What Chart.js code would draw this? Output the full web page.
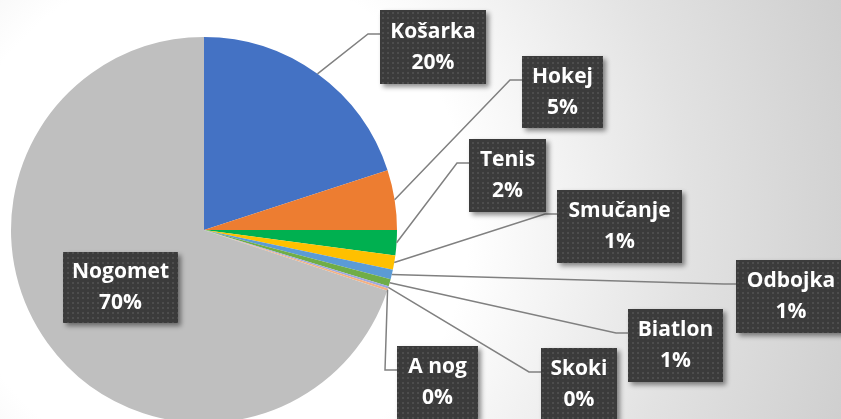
<!DOCTYPE html>
<html>
<head>
<meta charset="utf-8">
<script src="https://cdn.jsdelivr.net/npm/chart.js@4"></script>
<style>
  html, body { margin: 0; padding: 0; }
  #wrap {
    width: 841px; height: 419px; overflow: hidden; position: relative;
    background: radial-gradient(circle at 210px 220px, #ffffff 0px, #ffffff 260px, #e2e2e2 480px, #c9c9c9 720px);
  }
  #box { width: 841px; height: 460px; position: absolute; left: 0; top: 0; }
</style>
</head>
<body>
<div id="wrap"><div id="box"><canvas id="myChart"></canvas></div></div>
<script>
// sports and their share of answers
const categories = ["Košarka", "Hokej", "Tenis", "Smučanje", "Odbojka", "Biatlon", "Skoki", "A nog", "Nogomet"];
const shares = [20.0, 5.0, 2.1, 1.2, 0.8, 0.6, 0.2, 0.2, 69.9];
const sliceColors = ["#4472C4", "#ED7D31", "#00B050", "#FFC000", "#5B9BD5", "#70AD47", "#9DA8E0", "#F4B183", "#BFBFBF"];

// where each callout box sits (left, top, width, height), leader = draw line to slice
const labelBoxes = [
  { x: 380, y: 10, w: 106, h: 74, leader: true },
  { x: 522, y: 56, w: 81, h: 72, leader: true },
  { x: 469, y: 139, w: 77, h: 73, leader: true },
  { x: 557, y: 190, w: 125, h: 73, leader: true },
  { x: 736, y: 260, w: 110, h: 73, leader: true },
  { x: 628, y: 309, w: 95, h: 73, leader: true },
  { x: 541, y: 348, w: 76, h: 73, leader: true },
  { x: 397, y: 346, w: 81, h: 73, leader: true },
  { x: 63, y: 252, w: 115, h: 71, leader: false },
];

const total = shares.reduce((a, b) => a + b, 0);

// dotted fill like the office callouts
function makePattern(c) {
  const p = document.createElement("canvas");
  p.width = 5; p.height = 5;
  const pc = p.getContext("2d");
  pc.fillStyle = "#3b3b3b";
  pc.fillRect(0, 0, 5, 5);
  pc.fillStyle = "#4d4d4d";
  pc.fillRect(2, 2, 2, 2);
  return c.createPattern(p, "repeat");
}

const calloutPlugin = {
  id: "callouts",
  afterDatasetsDraw(chart) {
    const c = chart.ctx;
    const arcs = chart.getDatasetMeta(0).data;
    const pattern = makePattern(c);
    c.save();
    // leader lines first
    arcs.forEach((arc, i) => {
      const b = labelBoxes[i];
      if (!b.leader) return;
      const mid = (arc.startAngle + arc.endAngle) / 2;
      const px = arc.x + Math.cos(mid) * arc.outerRadius;
      const py = arc.y + Math.sin(mid) * arc.outerRadius;
      const ly = b.y + 24;
      c.beginPath();
      c.moveTo(px, py);
      c.lineTo(b.x - 12, ly);
      c.lineTo(b.x, ly);
      c.strokeStyle = "#808080";
      c.lineWidth = 1.5;
      c.stroke();
    });
    // boxes and text
    arcs.forEach((arc, i) => {
      const b = labelBoxes[i];
      c.save();
      c.shadowColor = "rgba(0,0,0,0.45)";
      c.shadowBlur = 5;
      c.shadowOffsetX = 3;
      c.shadowOffsetY = 3;
      c.fillStyle = pattern;
      c.fillRect(b.x, b.y, b.w, b.h);
      c.restore();
      const pct = Math.round(shares[i] / total * 100) + "%";
      c.fillStyle = "#ffffff";
      c.font = "bold 21px 'Open Sans'";
      c.textAlign = "center";
      c.textBaseline = "middle";
      const cx = b.x + b.w / 2;
      const cy = b.y + b.h / 2;
      c.fillText(categories[i], cx, cy - 15);
      c.fillText(pct, cx, cy + 16);
    });
    c.restore();
  },
};

const ctx = document.getElementById("myChart");
new Chart(ctx, {
  type: "pie",
  data: {
    labels: categories,
    datasets: [
      {
        data: shares,
        backgroundColor: sliceColors,
        borderWidth: 0,
      },
    ],
  },
  options: {
    responsive: true,
    maintainAspectRatio: false,
    animation: false,
    layout: { padding: { left: 11, right: 444, top: 37, bottom: 37 } },
    plugins: {
      legend: { display: false },
      tooltip: { enabled: false },
    },
  },
  plugins: [calloutPlugin],
});
</script>
</body>
</html>
